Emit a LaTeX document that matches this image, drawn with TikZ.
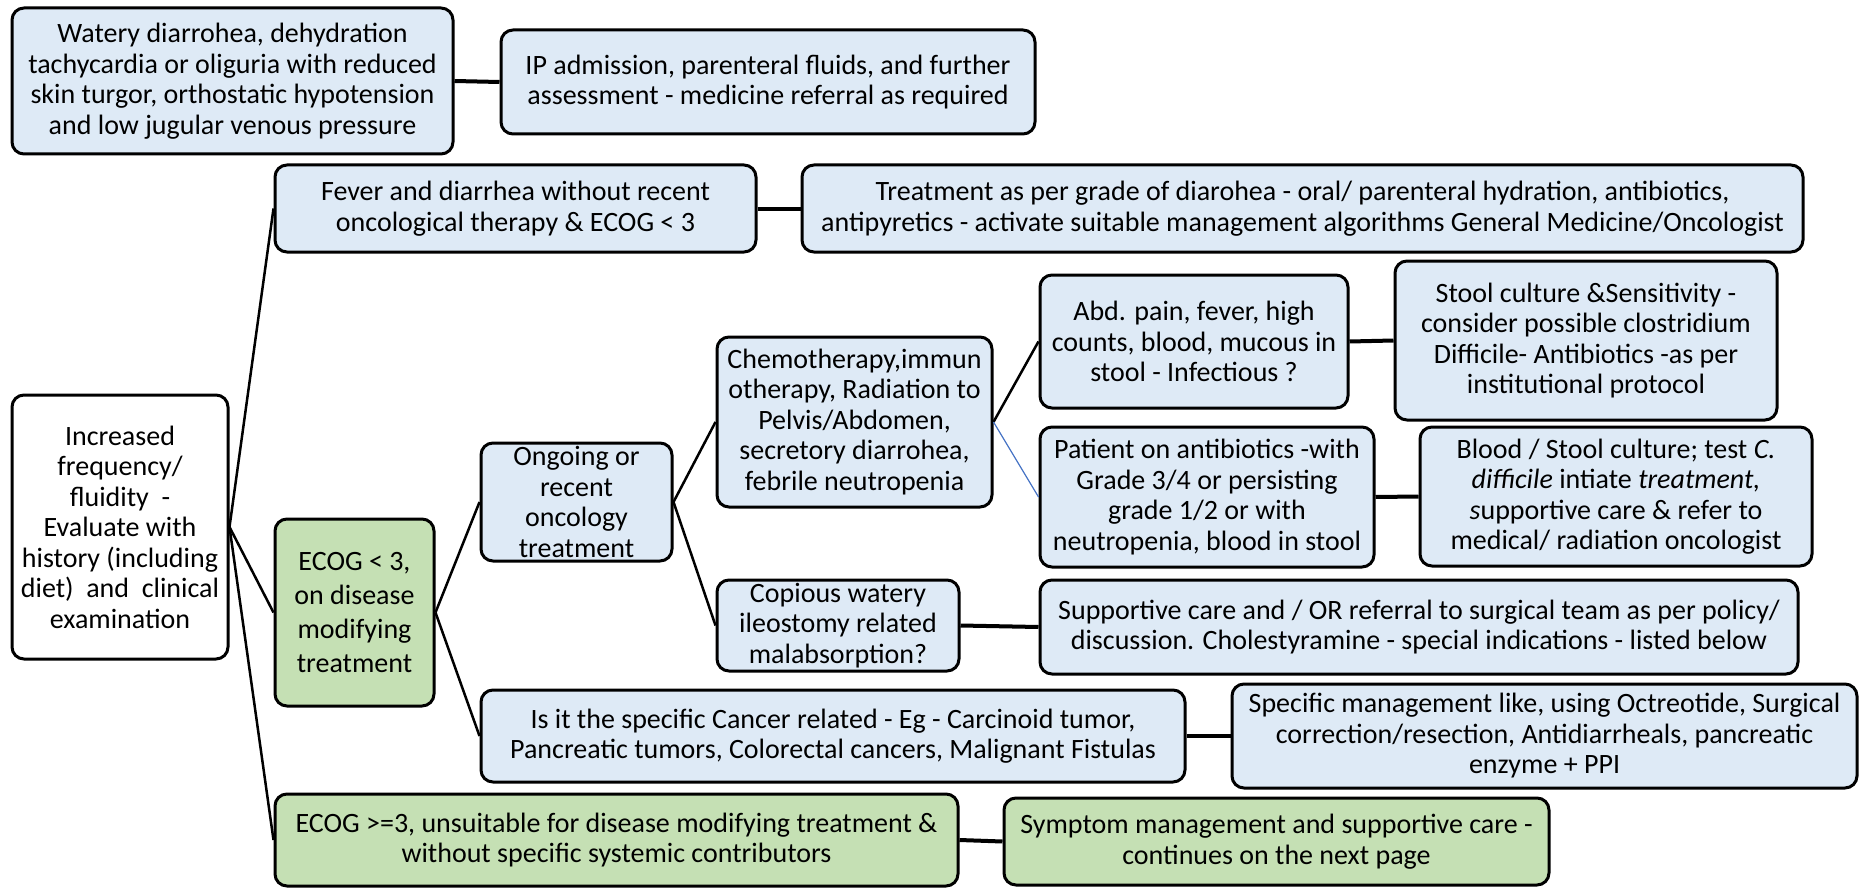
\documentclass[tikz,border=0pt]{standalone}
\usepackage{fontspec}
\setmainfont{Carlito}
\definecolor{boxblue}{HTML}{DEEAF6}
\definecolor{boxgreen}{HTML}{C5E0B4}
\definecolor{linkblue}{HTML}{4472C4}
\begin{document}
\begin{tikzpicture}[x=1pt,y=-1pt,
  box/.style={draw, line width=3pt, rounded corners=12pt, fill=boxblue, align=center, inner sep=0pt, font=\fontsize{28}{30.5}\selectfont},
  gbox/.style={box, fill=boxgreen},
  wbox/.style={box, fill=white},
  link/.style={line width=2.5pt},
  hlink/.style={line width=4pt}]
\useasboundingbox (0,0) rectangle (1861,888);

% top row
\node[box, minimum width=441pt, minimum height=146pt] (watery) at (232.5,81) {Watery diarrohea, dehydration\\ tachycardia or oliguria with reduced\\ skin turgor, orthostatic hypotension\\ and low jugular venous pressure};
\node[box, minimum width=534pt, minimum height=104pt] (ip) at (768,82) {IP admission, parenteral fluids, and further\\ assessment - medicine referral as required};
\node[box, minimum width=481pt, minimum height=87pt] (fever) at (515.5,208.5) {Fever and diarrhea without recent\\ oncological therapy \& ECOG < 3};
\node[box, minimum width=1001pt, minimum height=87pt] (grade) at (1302.5,208.5) {Treatment as per grade of diarohea - oral/ parenteral hydration, antibiotics,\\ antipyretics - activate suitable management algorithms General Medicine/Oncologist};

% main branch
\node[wbox, minimum width=216pt, minimum height=264pt] (incr) at (120,527) {Increased\\ frequency/\\ fluidity\ \ -\\ Evaluate with\\ history (including\\ diet)\ \ and\ \ clinical\\ examination};
\node[gbox, minimum width=159pt, minimum height=187pt, font=\fontsize{28}{34}\selectfont] (ecog) at (354.5,612.5) {ECOG < 3,\\ on disease\\ modifying\\ treatment};
\node[box, minimum width=191pt, minimum height=118pt] (ongoing) at (576.5,502) {Ongoing or\\ recent\\ oncology\\ treatment};
\node[box, minimum width=275pt, minimum height=170pt] (chemo) at (854.5,422) {Chemotherapy,immun\\ otherapy, Radiation to\\ Pelvis/Abdomen,\\ secretory diarrohea,\\ febrile neutropenia};
\node[box, minimum width=308pt, minimum height=133pt] (abd) at (1194,341.5) {Abd. pain, fever, high\\ counts, blood, mucous in\\ stool - Infectious ?};
\node[box, minimum width=382pt, minimum height=159pt] (stool) at (1586,340.5) {Stool culture \&Sensitivity -\\ consider possible clostridium\\ Difficile- Antibiotics -as per\\ institutional protocol};
\node[box, minimum width=334pt, minimum height=140pt] (abx) at (1207,497) {Patient on antibiotics -with\\ Grade 3/4 or persisting\\ grade 1/2 or with\\ neutropenia, blood in stool};
\node[box, minimum width=392pt, minimum height=139pt] (blood) at (1616,496.5) {Blood / Stool culture; test \textit{C.}\\ \textit{difficile} intiate \textit{treatment,}\\ \textit{s}upportive care \& refer to\\ medical/ radiation oncologist};
\node[box, minimum width=242pt, minimum height=91pt] (ileo) at (838,625.5) {Copious watery\\ ileostomy related\\ malabsorption?};
\node[box, minimum width=758pt, minimum height=94pt] (surg) at (1419,627) {Supportive care and / OR referral to surgical team as per policy/\\ discussion. Cholestyramine - special indications - listed below};
\node[box, minimum width=704pt, minimum height=92pt] (cancer) at (833,736) {Is it the specific Cancer related - Eg - Carcinoid tumor,\\ Pancreatic tumors, Colorectal cancers, Malignant Fistulas};
\node[box, minimum width=625pt, minimum height=104pt] (octreo) at (1544.5,736) {Specific management like, using Octreotide, Surgical\\ correction/resection, Antidiarrheals, pancreatic\\ enzyme + PPI};
\node[gbox, minimum width=683pt, minimum height=92pt] (ecogthree) at (616.5,840) {ECOG >=3, unsuitable for disease modifying treatment \&\\ without specific systemic contributors};
\node[gbox, minimum width=545pt, minimum height=87pt] (sympt) at (1276.5,841.5) {Symptom management and supportive care -\\ continues on the next page};

% branches
\draw[link] (incr.east) -- (fever.west);
\draw[link] (incr.east) -- (ecog.west);
\draw[link] (incr.east) -- (ecogthree.west);
\draw[link] (ecog.east) -- (ongoing.west);
\draw[link] (ecog.east) -- (cancer.west);
\draw[link] (ongoing.east) -- (chemo.west);
\draw[link] (ongoing.east) -- (ileo.west);
\draw[link] (chemo.east) -- (abd.west);
\draw[line width=1.2pt, linkblue] (chemo.east) -- (abx.west);

% horizontal links
\draw[hlink] (watery.east) -- (ip.west);
\draw[hlink] (fever.east) -- (grade.west);
\draw[hlink] (abd.east) -- (stool.west);
\draw[hlink] (abx.east) -- (blood.west);
\draw[hlink] (ileo.east) -- (surg.west);
\draw[hlink] (cancer.east) -- (octreo.west);
\draw[hlink] (ecogthree.east) -- (sympt.west);
\end{tikzpicture}
\end{document}
